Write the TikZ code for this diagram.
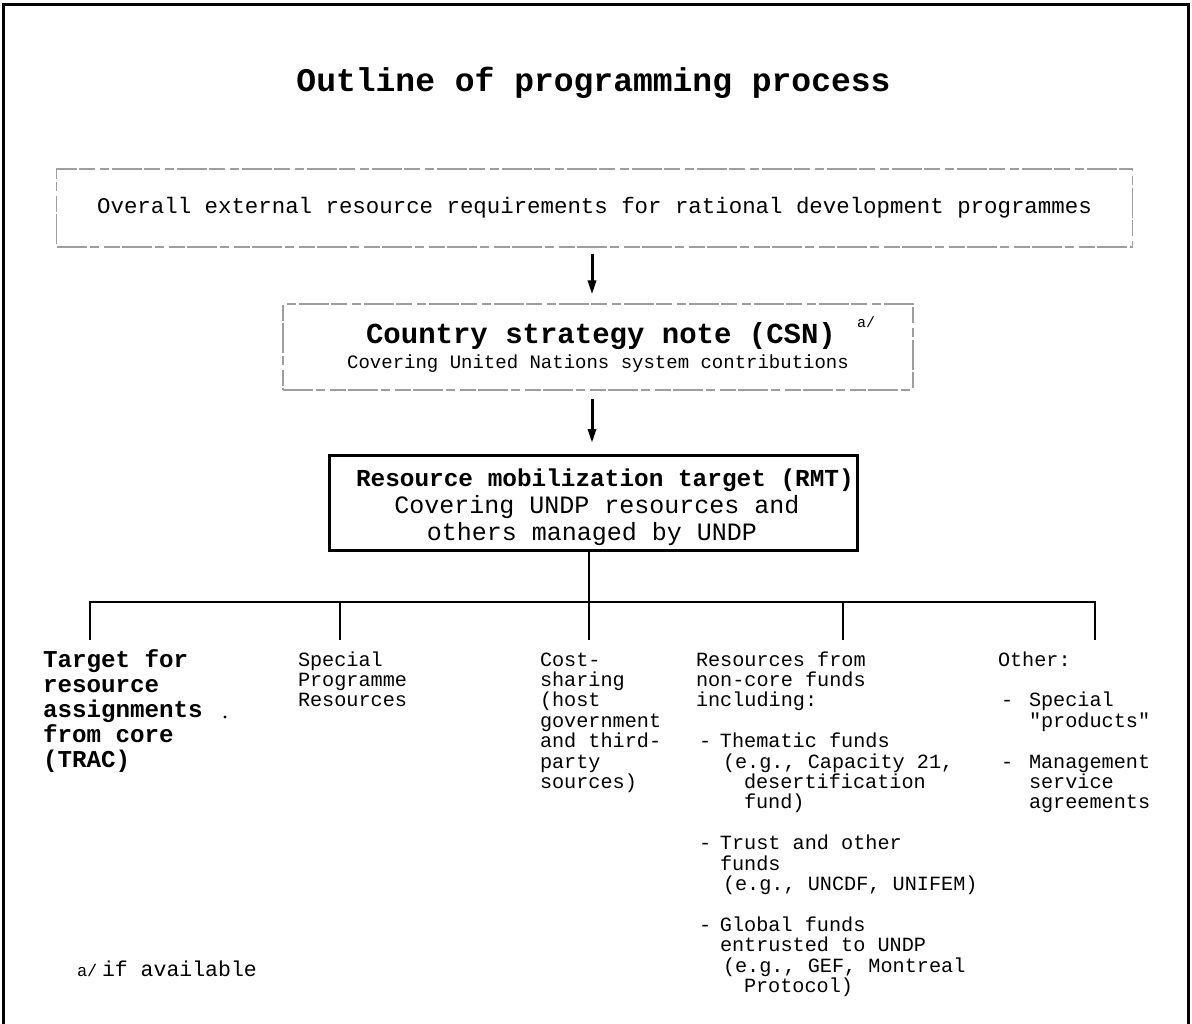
\documentclass[tikz,border=0pt]{standalone}
\usepackage{fontspec}
\setmainfont{Liberation Mono}[Ligatures=TeXOff]
\usetikzlibrary{arrows.meta,calc}
\newcommand\fs[1]{\fontsize{#1}{#1}\selectfont}
\newcommand\ind[1]{\hspace*{#1pt}}
\begin{document}
\begin{tikzpicture}[x=1pt,y=-1pt,
  lbl/.style={inner sep=0pt, outer sep=0pt},
  softbox/.style={draw=black!38, line width=1.1pt, dash pattern=on 30pt off 3pt on 9pt off 5pt on 16pt off 2pt, inner sep=0pt},
  hardbox/.style={draw=black, line width=3pt, inner sep=0pt},
  arr/.style={line width=3pt, -{Triangle[length=14pt,width=8pt]}},
  conn/.style={line width=2.6pt},
  ct/.style={lbl, anchor=base west, font=\fs{20.2}},
  cb/.style={lbl, anchor=base west, font=\fs{24.2}\bfseries}
]
\useasboundingbox (0,0) rectangle (1192,1024);
% outer frame
\draw[line width=3pt] (3,1024) -- (3,5) -- (1188,5) -- (1188,1024);

% title
\node[lbl, anchor=base, font=\fs{33}\bfseries] (title) at (593.5,92) {Outline of programming process};

% box 1
\node[softbox, minimum width=1076pt, minimum height=78pt, font=\fs{22.4}] (b1) at (594.5,208) {Overall external resource requirements for rational development programmes};

% CSN box
\node[softbox, minimum width=630pt, minimum height=86pt] (csn) at (598,347) {};
\node[lbl, anchor=base, font=\fs{29}\bfseries] (csnT) at (601,344) {Country strategy note (CSN)};
\node[lbl, anchor=base, font=\fs{19}] (csnS) at (598,369) {Covering United Nations system contributions};
\node[lbl, font=\fs{15}] (csnA) at (866,322) {a/};

% RMT box
\node[hardbox, minimum width=528pt, minimum height=95pt] (rmt) at (593,503) {};
\node[lbl, anchor=base west, font=\fs{24.4}\bfseries] (rmtT) at (356,486) {Resource mobilization target (RMT)};
\node[lbl, anchor=base, font=\fs{25}] (rmt2) at (597,513) {Covering UNDP resources and};
\node[lbl, anchor=base, font=\fs{25}] (rmt3) at (592,540) {others managed by UNDP};

% arrows
\draw[arr] ($(b1.south)+(-2.5,6)$) -- ($(csn.north)+(-6,-9)$);
\draw[arr] ($(csn.south)+(-6,8)$) -- ($(rmt.north)+(-1,-11)$);

% tree
\coordinate (bar) at (589,602);
\coordinate (k1) at (90,640);
\coordinate (k2) at (340,640);
\coordinate (k3) at (589,640);
\coordinate (k4) at (843,640);
\coordinate (k5) at (1095,640);
\draw[conn] ($(rmt.south)+(-4,0)$) -- (bar);
\draw[conn] (k1) -- (k1 |- bar) -- (k5 |- bar) -- (k5);
\foreach \k in {k2,k3,k4} \draw[conn] (\k) -- (\k |- bar);

% column 1
\foreach \t [count=\i] in {{Target for}, {resource}, {assignments}, {from core}, {(TRAC)}}
  \node[cb] (c1l\i) at (43,{667+25*(\i-1)}) {\t};
\node[circle, fill=black, inner sep=1.1pt] (stray) at (225,717) {};

% column 2
\foreach \t [count=\i] in {{Special}, {Programme}, {Resources}}
  \node[ct] (c2l\i) at (298,{666+20.4*(\i-1)}) {\t};

% column 3
\foreach \t [count=\i] in {{Cost-}, {sharing}, {(host}, {government}, {and third-}, {party}, {sources)}}
  \node[ct] (c3l\i) at (540,{666+20.4*(\i-1)}) {\t};

% column 4
\node[ct] (c4a) at (696,666) {Resources from};
\node[ct] (c4b) at (696,686.4) {non-core funds};
\node[ct] (c4c) at (696,706.8) {including:};
\node[ct] (c4d) at (696,747.6) {\makebox[24pt][l]{\ind{3}-}Thematic funds};
\node[ct] (c4e) at (696,768) {\ind{27}(e.g., Capacity 21,};
\node[ct] (c4f) at (696,788.4) {\ind{48}desertification};
\node[ct] (c4g) at (696,808.8) {\ind{48}fund)};
\node[ct] (c4h) at (696,849.6) {\makebox[24pt][l]{\ind{3}-}Trust and other};
\node[ct] (c4i) at (696,870) {\ind{24}funds};
\node[ct] (c4j) at (696,890.4) {\ind{27}(e.g., UNCDF, UNIFEM)};
\node[ct] (c4k) at (696,931.2) {\makebox[24pt][l]{\ind{3}-}Global funds};
\node[ct] (c4l) at (696,951.6) {\ind{24}entrusted to UNDP};
\node[ct] (c4m) at (696,972) {\ind{27}(e.g., GEF, Montreal};
\node[ct] (c4n) at (696,992.4) {\ind{48}Protocol)};

% column 5
\node[ct] (c5a) at (998,666) {Other:};
\node[ct] (c5b) at (998,706.8) {\makebox[31pt][l]{\ind{3}-}Special};
\node[ct] (c5c) at (998,727.2) {\ind{31}"products"};
\node[ct] (c5d) at (998,768) {\makebox[31pt][l]{\ind{3}-}Management};
\node[ct] (c5e) at (998,788.4) {\ind{31}service};
\node[ct] (c5f) at (998,808.8) {\ind{31}agreements};

% footnote
\node[lbl, anchor=base west, font=\fs{21.5}] (foot) at (77,976) {\makebox[25pt][l]{\fs{17}a/}if available};
\end{tikzpicture}
\end{document}
